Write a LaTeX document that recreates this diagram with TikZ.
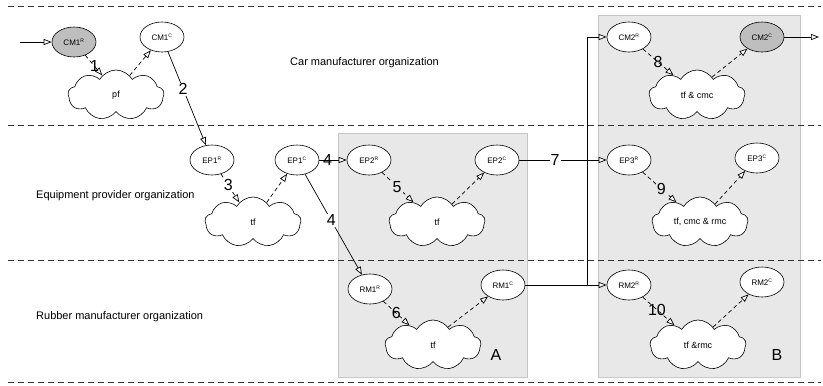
\documentclass[tikz,border=0pt]{standalone}
\usepackage{fontspec}
\setmainfont{Liberation Sans}
\usetikzlibrary{shapes.geometric,shapes.symbols,arrows.meta}
\definecolor{boxgray}{RGB}{232,232,232}
\definecolor{boxedge}{RGB}{198,198,198}
\definecolor{nodegray}{RGB}{190,190,190}
\newcommand\role[1]{\textsuperscript{\fontsize{5}{5}\selectfont #1}}
\begin{document}
\begin{tikzpicture}[x=1pt,y=-1pt,
  state/.style={ellipse, draw, line width=0.6pt, fill=white, minimum width=44pt,
    minimum height=30pt, inner sep=0pt, font=\fontsize{8}{9}\selectfont},
  act/.style={cloud, cloud puffs=9, cloud puff arc=120, aspect=2, draw,
    line width=0.6pt, fill=white, minimum width=96pt, minimum height=50pt,
    inner sep=0pt, font=\fontsize{9}{10}\selectfont},
  lane/.style={draw=black!80, line width=0.7pt, dash pattern=on 6pt off 4pt},
  lanetxt/.style={font=\fontsize{11}{13}\selectfont, anchor=west, inner sep=0pt},
  group/.style={fill=boxgray, draw=boxedge, line width=1pt},
  flow/.style={line width=0.7pt, -{Triangle[length=8pt, width=6pt, fill=white]}},
  trig/.style={flow, dash pattern=on 4pt off 3pt},
  num/.style={font=\fontsize{16}{16}\selectfont, inner sep=1pt},
]
\useasboundingbox (0,0) rectangle (823,386);

% grouped collaborations A and B
\path[group] (338,133) rectangle (527,377);
\path[group] (598,15) rectangle (800,377);
\node[num] (gA) at (496,355) {A};
\node[num] (gB) at (777,355) {B};

% organisation lanes
\draw[lane] (8,6) -- (821,6);
\draw[lane] (8,125) -- (821,125);
\draw[lane] (8,260) -- (821,260);
\draw[lane] (8,382) -- (821,382);
\node[lanetxt] (carlane) at (290,63) {Car manufacturer organization};
\node[lanetxt] (eqlane) at (36,196) {Equipment provider organization};
\node[lanetxt] (rublane) at (36,317) {Rubber manufacturer organization};

% car manufacturer
\node[state, fill=nodegray] (CM1R) at (74,42) {CM1\role{R}};
\node[state] (CM1C) at (162,37) {CM1\role{C}};
\node[act] (pf) at (116,95) {pf};
\node[state] (CM2R) at (629,37) {CM2\role{R}};
\node[act] (tfcmc) at (697,95) {tf \& cmc};
\node[state, fill=nodegray] (CM2C) at (762,37) {CM2\role{C}};

% equipment provider
\node[state] (EP1R) at (212,160) {EP1\role{R}};
\node[state] (EP1C) at (297,160) {EP1\role{C}};
\node[act] (tfA) at (253,222) {tf};
\node[state] (EP2R) at (369,160) {EP2\role{R}};
\node[act] (tfB) at (437,222) {tf};
\node[state] (EP2C) at (497,160) {EP2\role{C}};
\node[state] (EP3R) at (629,160) {EP3\role{R}};
\node[act] (tfall) at (700,222) {tf, cmc \& rmc};
\node[state] (EP3C) at (757,158) {EP3\role{C}};

% rubber manufacturer
\node[state] (RM1R) at (370,289) {RM1\role{R}};
\node[act] (tfC) at (433,345) {tf};
\node[state] (RM1C) at (503,285) {RM1\role{C}};
\node[state] (RM2R) at (629,285) {RM2\role{R}};
\node[act] (tfrmc) at (698,345) {tf \&rmc};
\node[state] (RM2C) at (762,282) {RM2\role{C}};

% free ends and junction
\coordinate (in) at (20,42);
\coordinate (out) at (819,37);
\coordinate (J) at (587,285);

% triggers from request to activity, completions back
\draw[trig] (CM1R) -- node[num, pos=0.55] {1} (pf.125);
\draw[trig] (pf.55) -- (CM1C);
\draw[trig] (EP1R) -- node[num, fill=white, pos=0.4] {3} (tfA.125);
\draw[trig] (tfA.55) -- (EP1C);
\draw[trig] (EP2R) -- node[num, fill=boxgray, pos=0.48] {5} (tfB.140);
\draw[trig] (tfB.50) -- (EP2C);
\draw[trig] (RM1R) -- node[num, pos=0.5] {6} (tfC.140);
\draw[trig] (tfC.50) -- (RM1C);
\draw[trig] (CM2R) -- node[num, pos=0.5] {8} (tfcmc.140);
\draw[trig] (tfcmc.50) -- (CM2C);
\draw[trig] (EP3R) -- node[num, fill=boxgray, pos=0.55] {9} (tfall.140);
\draw[trig] (tfall.50) -- (EP3C);
\draw[trig] (RM2R) -- node[num, pos=0.45] {10} (tfrmc.140);
\draw[trig] (tfrmc.50) -- (RM2C);

% flows between organisations
\draw[flow] (in) -- (CM1R);
\draw[flow] (CM1C) -- node[num, fill=white, pos=0.4] {2} (EP1R);
\draw[flow] (EP1C) -- node[num, pos=0.3] {4} (EP2R);
\draw[flow] (EP1C) -- node[num, fill=white, pos=0.46] {4} (RM1R);
\draw[flow] (EP2C) -- node[num, fill=white, pos=0.41] {7} (EP3R);
\draw[line width=0.7pt] (RM1C) -- (J);
\draw[flow] (J) |- (CM2R);
\draw[flow] (J) -- (RM2R);
\draw[flow] (CM2C) -- (out);
\end{tikzpicture}
\end{document}
